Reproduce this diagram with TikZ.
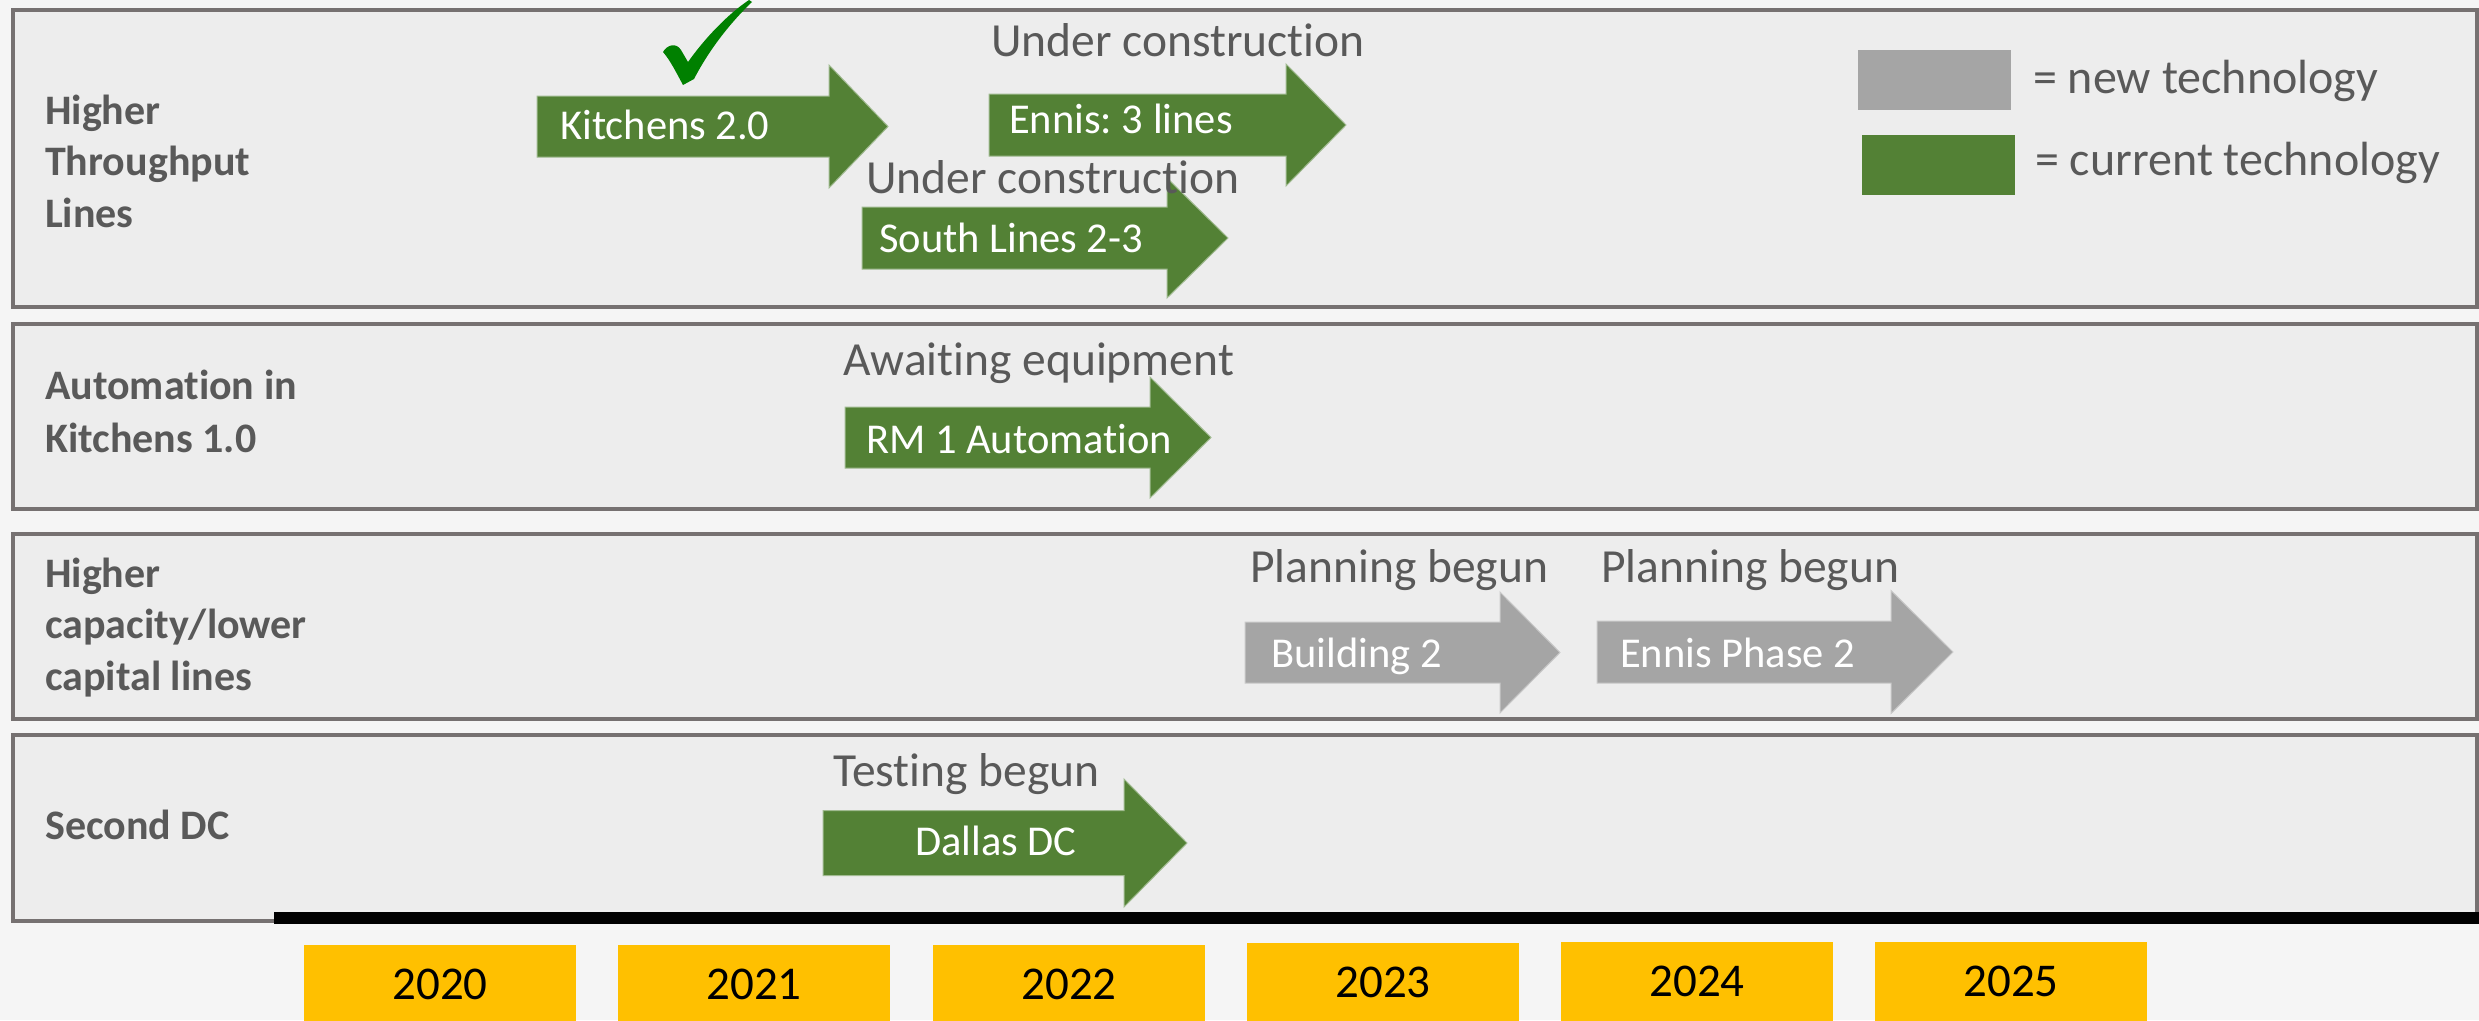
\documentclass[tikz,border=0pt]{standalone}
\usepackage{fontspec}
\setmainfont{Carlito}[Ligatures={NoCommon}]
\frenchspacing
\definecolor{bgpaper}{HTML}{F5F5F5}
\definecolor{panelfill}{HTML}{EDEDED}
\definecolor{panelline}{HTML}{767171}
\definecolor{txtgrey}{HTML}{595959}
\definecolor{curgreen}{HTML}{538135}
\definecolor{newgrey}{HTML}{A5A5A5}
\definecolor{yearyel}{HTML}{FFC000}
\definecolor{checkgreen}{HTML}{008000}
\tikzset{
  panel/.style={fill=panelfill, draw=panelline, line width=3.5pt},
  rowlabel/.style={anchor=base west, inner sep=0pt, text=txtgrey, font=\fontsize{42}{51}\selectfont\bfseries, align=left},
  status/.style={anchor=base west, inner sep=0pt, text=txtgrey, font=\fontsize{47.5}{56}\selectfont},
  arrowtext/.style={anchor=base west, inner sep=0pt, text=white, font=\fontsize{42.5}{50}\selectfont},
  legtext/.style={anchor=base west, inner sep=0pt, text=txtgrey, font=\fontsize{48}{56}\selectfont},
  yearbox/.style={fill=yearyel, draw=none, minimum width=272pt, minimum height=90pt, inner sep=0pt, anchor=north west},
  yeartext/.style={anchor=base, inner sep=0pt, text=black, font=\fontsize{47}{56}\selectfont},
  greenarrow/.style={fill=curgreen, draw=curgreen!55!white, line width=1pt},
  greyarrow/.style={fill=newgrey, draw=newgrey!60!white, line width=1pt},
}
% #1 style, #2 x0, #3 x1 (head start), #4 tip, #5 y centre, #6 body half, #7 head half
\newcommand{\tlarrow}[7]{%
  \path[#1] (#2,#5-#6) -- (#3,#5-#6) -- (#3,#5-#7) -- (#4,#5) -- (#3,#5+#7) -- (#3,#5+#6) -- (#2,#5+#6) -- cycle;}
\begin{document}
\begin{tikzpicture}[x=1pt,y=-1pt]
\useasboundingbox (0,0) rectangle (2479,1020);
\fill[bgpaper] (0,0) rectangle (2479,1020);

% panels
\draw[panel] (13,10) rectangle (2477,307);
\draw[panel] (13,324) rectangle (2477,509);
\draw[panel] (13,534) rectangle (2477,719);
\draw[panel] (13,735) rectangle (2477,921);

% timeline bar
\fill[black] (274,912) rectangle (2479,924);

% row labels
\node[rowlabel] (l1a) at (45,124) {Higher};
\node[rowlabel] (l1b) at (45,175) {Throughput};
\node[rowlabel] (l1c) at (45,227) {Lines};
\node[rowlabel] (l2a) at (45,399) {Automation in};
\node[rowlabel] (l2b) at (45,452) {Kitchens 1.0};
\node[rowlabel] (l3a) at (45,587) {Higher};
\node[rowlabel] (l3b) at (45,638) {capacity/lower};
\node[rowlabel] (l3c) at (45,690) {capital lines};
\node[rowlabel] (l4a) at (45,839) {Second DC};

% arrows
\tlarrow{greenarrow}{537}{829}{888}{126.5}{30.5}{61.5}
\tlarrow{greenarrow}{989}{1286}{1346}{125}{31}{61}
\tlarrow{greenarrow}{862}{1167}{1228}{238}{31}{60}
\tlarrow{greenarrow}{845}{1150}{1211}{437.5}{30.5}{60.5}
\tlarrow{greyarrow}{1245}{1500}{1560}{652.5}{30.5}{60.5}
\tlarrow{greyarrow}{1597}{1891}{1953}{652}{31}{61.5}
\tlarrow{greenarrow}{823}{1124}{1187}{843}{32.5}{64}

% arrow texts
\node[arrowtext] (a1) at (560,139) {Kitchens 2.0};
\node[arrowtext] (a2) at (1009,133) {Ennis: 3 lines};
\node[arrowtext] (a3) at (879,252) {South Lines 2-3};
\node[arrowtext] (a4) at (866,453) {RM 1 Automation};
\node[arrowtext] (a5) at (1271,667) {Building 2};
\node[arrowtext] (a6) at (1620,667) {Ennis Phase 2};
\node[arrowtext, anchor=base] (a7) at (996,855) {Dallas DC};

% status texts
\node[status] (s1) at (991,56) {Under construction};
\node[status] (s2) at (866,193) {Under construction};
\node[status] (s3) at (843,375) {Awaiting equipment};
\node[status] (s4) at (1250,582) {Planning begun};
\node[status] (s5) at (1601,582) {Planning begun};
\node[status] (s6) at (833,786) {Testing begun};

% checkmark
\fill[checkgreen] (683,85) .. controls (676,72) and (670,60) .. (663,52)
  .. controls (667,45) and (676,42) .. (681,50)
  -- (688,62) .. controls (705,38) and (728,14) .. (749,0)
  -- (752,2) .. controls (728,25) and (708,52) .. (694,79)
  -- cycle;

% legend
\fill[newgrey] (1858,50) rectangle (2011,110);
\fill[curgreen] (1862,135) rectangle (2015,195);
\node[legtext] (lg1) at (2033,93) {= new technology};
\node[legtext] (lg2) at (2035,175) {= current technology};

% years
\foreach \yx/\yt/\yy [count=\i] in {304/2020/945, 618/2021/945, 933/2022/945, 1247/2023/943, 1561/2024/942, 1875/2025/942}{
  \node[yearbox] (yb\i) at (\yx,\yy) {};
  \node[yeartext] (yt\i) at (\yx+136,\yy+54) {\yt};
}
\end{tikzpicture}
\end{document}
